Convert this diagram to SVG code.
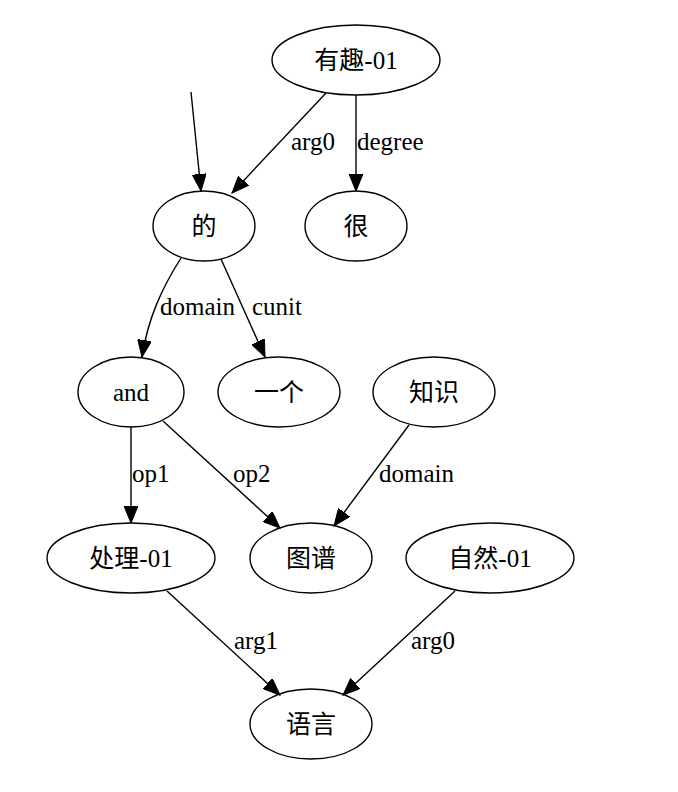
<svg xmlns="http://www.w3.org/2000/svg" width="678" height="792" viewBox="0 0 678 792">
<style>
.n ellipse{fill:none;stroke:#000;stroke-width:1.4}
text{font-family:"Liberation Serif","Noto Sans CJK SC",serif;font-size:25px;fill:#000}
.n text{text-anchor:middle}
.e path{fill:none;stroke:#000;stroke-width:1.4;marker-end:url(#ah)}
</style>
<defs>
<marker id="ah" markerUnits="userSpaceOnUse" markerWidth="18" markerHeight="14" refX="17" refY="7" orient="auto" viewBox="0 0 18 14">
<path d="M0,0 L17,7 L0,14 z" fill="#000" stroke="#000" stroke-width="1"/>
</marker>
</defs>
<rect width="678" height="792" fill="#fff"/>
<g id="edges" class="e">
<path d="M191,92 L201,191"/>
<path d="M326,93 L232,193"/>
<path d="M356,95 L356,191"/>
<path d="M181,258 C162,288 148,318 142,357"/>
<path d="M221,259 L265,357"/>
<path d="M131,427 L131,523"/>
<path d="M163,421 L280,528"/>
<path d="M409,425 L334,526"/>
<path d="M167,591 L280,695"/>
<path d="M455,591 L343,695"/>
</g>
<g id="edge-labels">
<text x="291" y="150">arg0</text>
<text x="357" y="150">degree</text>
<text x="160" y="315">domain</text>
<text x="252" y="315">cunit</text>
<text x="132" y="482">op1</text>
<text x="233" y="482">op2</text>
<text x="379" y="482">domain</text>
<text x="234" y="649">arg1</text>
<text x="411" y="649">arg0</text>
</g>
<g id="n-youqu" class="n"><ellipse cx="356" cy="60" rx="84" ry="35"/><text x="356" y="69">有趣-01</text></g>
<g id="n-de" class="n"><ellipse cx="204" cy="226" rx="51" ry="35"/><text x="204" y="235">的</text></g>
<g id="n-hen" class="n"><ellipse cx="356" cy="226" rx="51" ry="35"/><text x="356" y="235">很</text></g>
<g id="n-and" class="n"><ellipse cx="131" cy="392" rx="53" ry="35"/><text x="131" y="401">and</text></g>
<g id="n-yige" class="n"><ellipse cx="279" cy="392" rx="61" ry="35"/><text x="279" y="401">一个</text></g>
<g id="n-zhishi" class="n"><ellipse cx="434" cy="392" rx="61" ry="35"/><text x="434" y="401">知识</text></g>
<g id="n-chuli" class="n"><ellipse cx="131" cy="558" rx="84" ry="35"/><text x="131" y="567">处理-01</text></g>
<g id="n-tupu" class="n"><ellipse cx="311" cy="558" rx="61" ry="35"/><text x="311" y="567">图谱</text></g>
<g id="n-ziran" class="n"><ellipse cx="490" cy="558" rx="84" ry="35"/><text x="490" y="567">自然-01</text></g>
<g id="n-yuyan" class="n"><ellipse cx="311" cy="724" rx="61" ry="35"/><text x="311" y="733">语言</text></g>
</svg>
